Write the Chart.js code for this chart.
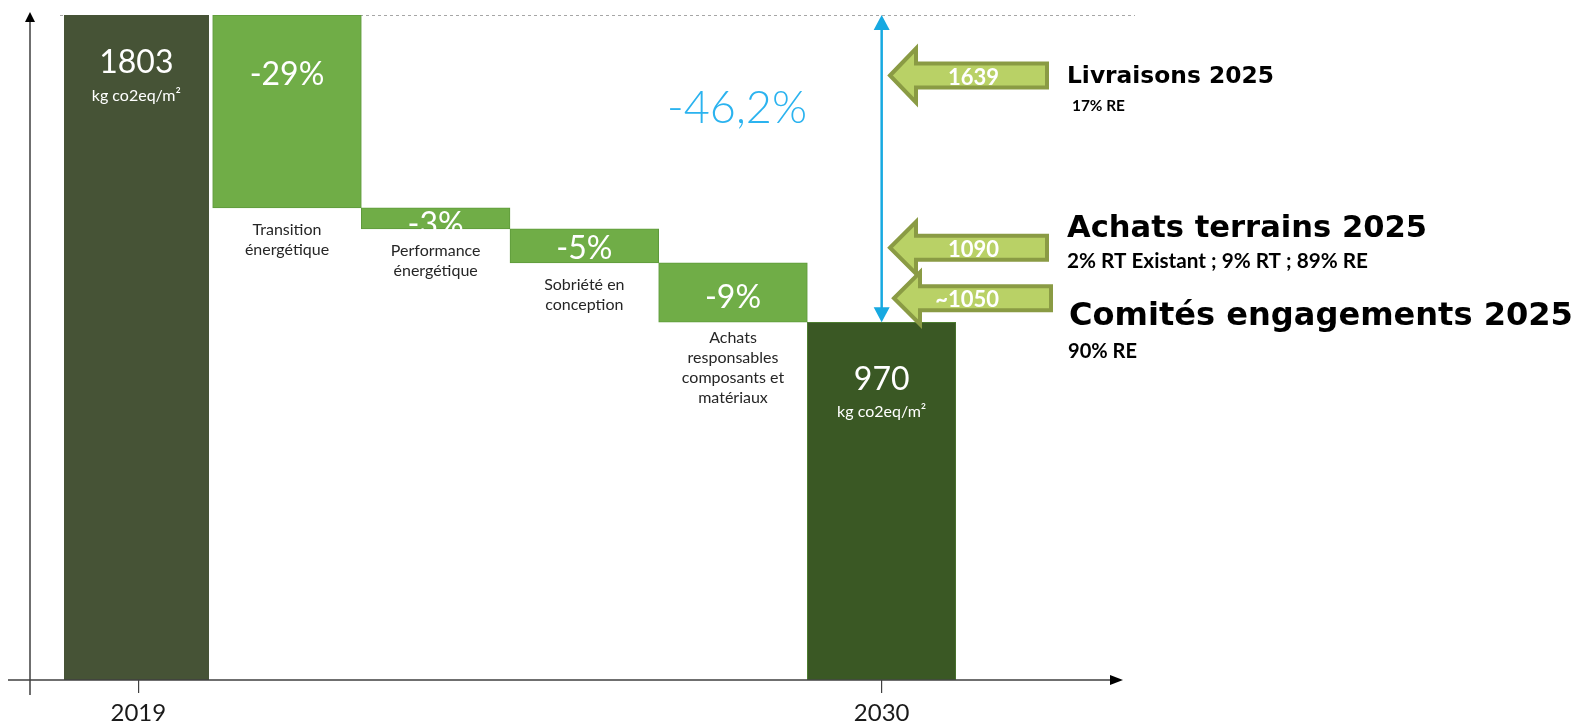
<!DOCTYPE html>
<html>
<head>
<meta charset="utf-8">
<script src="https://cdn.jsdelivr.net/npm/chart.js@4"></script>
<style>
  html, body { margin: 0; padding: 0; background: #ffffff; }
  #chart { display: block; }
</style>
</head>
<body>
<canvas id="chart" width="1579" height="726"></canvas>
<script>
// categories of the waterfall
const categories = ['2019', 'Transition énergétique', 'Performance énergétique', 'Sobriété en conception', 'Achats responsables composants et matériaux', '2030'];
const tickLabels = ['2019', '', '', '', '', '2030'];

// floating bars: low / high value (kg co2eq/m²)
const barLow = [0, 1280, 1223, 1131, 970, 0];
const barHigh = [1803, 1803, 1280, 1223, 1131, 970];
const barLabels = ['1803', '-29%', '-3%', '-5%', '-9%', '970'];
const unitLabel = 'kg co2eq/m²';
const stepLines = [
    [],
    ['Transition', 'énergétique'],
    ['Performance', 'énergétique'],
    ['Sobriété en', 'conception'],
    ['Achats', 'responsables', 'composants et', 'matériaux'],
    []
];
const totalChange = '-46,2%';

// arrows on the right
const arrowLevels = [1639, 1172, 1035];
const arrowLabels = ['1639', '1090', '~1050'];
const noteTitles = ['Livraisons 2025', 'Achats terrains 2025', 'Comités engagements 2025'];
const noteSubs = ['17% RE', '2% RT Existant ; 9% RT ; 89% RE', '90% RE'];

const barColors = ['#465336', '#70ad47', '#70ad47', '#70ad47', '#70ad47', '#3a5824'];
const barBorders = ['#ffffff', '#5e9a3b', '#5e9a3b', '#5e9a3b', '#5e9a3b', '#4d7d30'];
const barBorderWidths = [{ left: 0, top: 0, bottom: 0, right: 4 }, 1, 1, 1, 1, 1];

// write text scaled to a wanted width
function fitText(ctx, text, x, y, weight, family, width, align) {
    ctx.font = weight + ' 100px ' + family;
    const w = ctx.measureText(text).width;
    const size = 100 * width / w;
    ctx.font = weight + ' ' + size.toFixed(2) + 'px ' + family;
    ctx.textAlign = align || 'left';
    ctx.fillText(text, x, y);
}

function greenArrow(ctx, tipX, y, backX, endX, headHalf, bodyHalf) {
    ctx.beginPath();
    ctx.moveTo(tipX, y);
    ctx.lineTo(backX, y - headHalf);
    ctx.lineTo(backX, y - bodyHalf);
    ctx.lineTo(endX, y - bodyHalf);
    ctx.lineTo(endX, y + bodyHalf);
    ctx.lineTo(backX, y + bodyHalf);
    ctx.lineTo(backX, y + headHalf);
    ctx.closePath();
    ctx.fillStyle = '#b9d166';
    ctx.fill();
    ctx.lineWidth = 4;
    ctx.strokeStyle = '#8a9b44';
    ctx.lineJoin = 'miter';
    ctx.stroke();
}

const decorPlugin = {
    id: 'decor',
    beforeDatasetsDraw(chart) {
        const ctx = chart.ctx;
        const y = chart.scales.y;
        ctx.save();
        ctx.strokeStyle = '#a6a6a6';
        ctx.lineWidth = 1;
        ctx.setLineDash([3, 3]);
        ctx.beginPath();
        ctx.moveTo(60, y.getPixelForValue(barHigh[0]) + 0.5);
        ctx.lineTo(1135, y.getPixelForValue(barHigh[0]) + 0.5);
        ctx.stroke();
        ctx.restore();
    },
    afterDraw(chart) {
        const ctx = chart.ctx;
        const x = chart.scales.x;
        const y = chart.scales.y;
        const base = y.getPixelForValue(0);
        ctx.save();

        // axes
        ctx.strokeStyle = '#404040';
        ctx.lineWidth = 1.5;
        ctx.beginPath();
        ctx.moveTo(30, 695);
        ctx.lineTo(30, 20);
        ctx.moveTo(8, base);
        ctx.lineTo(1112, base);
        ctx.stroke();
        ctx.fillStyle = '#000';
        ctx.beginPath();
        ctx.moveTo(30, 12);
        ctx.lineTo(25, 22);
        ctx.lineTo(35, 22);
        ctx.closePath();
        ctx.fill();
        ctx.beginPath();
        ctx.moveTo(1123, base);
        ctx.lineTo(1110, base - 5);
        ctx.lineTo(1110, base + 5);
        ctx.closePath();
        ctx.fill();

        // bar labels
        const valueOffsets = [48, 60, 17, 20, 35, 57];
        ctx.textBaseline = 'middle';
        ctx.textAlign = 'center';
        categories.forEach((c, i) => {
            const cx = x.getPixelForValue(i) - (i === 0 ? 2 : 0);
            const top = y.getPixelForValue(barHigh[i]);
            const bottom = y.getPixelForValue(barLow[i]);
            ctx.fillStyle = '#ffffff';
            ctx.font = '400 32px Lato';
            ctx.fillText(barLabels[i], cx, top + valueOffsets[i]);
            if (i === 0 || i === 5) {
                ctx.font = '400 16px Lato';
                ctx.fillText(unitLabel, cx, top + valueOffsets[i] + 33);
            }
            ctx.fillStyle = '#262626';
            ctx.font = '400 16px Lato';
            const off = i === 4 ? 16 : 22;
            stepLines[i].forEach((line, k) => {
                ctx.fillText(line, cx, bottom + off + k * 20);
            });
        });

        // blue total arrow
        const ax = x.getPixelForValue(5);
        const ay1 = y.getPixelForValue(barHigh[0]);
        const ay2 = y.getPixelForValue(barHigh[5]);
        ctx.strokeStyle = '#17a9e1';
        ctx.fillStyle = '#17a9e1';
        ctx.lineWidth = 2.5;
        ctx.beginPath();
        ctx.moveTo(ax, ay1 + 12);
        ctx.lineTo(ax, ay2 - 12);
        ctx.stroke();
        ctx.beginPath();
        ctx.moveTo(ax, ay1);
        ctx.lineTo(ax - 8, ay1 + 15);
        ctx.lineTo(ax + 8, ay1 + 15);
        ctx.closePath();
        ctx.fill();
        ctx.beginPath();
        ctx.moveTo(ax, ay2);
        ctx.lineTo(ax - 8, ay2 - 15);
        ctx.lineTo(ax + 8, ay2 - 15);
        ctx.closePath();
        ctx.fill();

        ctx.fillStyle = '#2bb3ef';
        ctx.textBaseline = 'alphabetic';
        fitText(ctx, totalChange, 737, 123, '300', 'Lato', 140, 'center');

        // green arrows with values
        arrowLevels.forEach((v, i) => {
            const py = y.getPixelForValue(v);
            const shift = i === 2 ? 4 : 0;
            const half = i === 0 ? 27 : 26;
            greenArrow(ctx, 890 + shift, py, 916 + shift, 1047 + shift, half, 12);
            ctx.fillStyle = '#ffffff';
            ctx.font = '700 22px Lato';
            ctx.textAlign = 'right';
            ctx.textBaseline = 'middle';
            ctx.fillText(arrowLabels[i], 999, py + 2);
        });

        // notes on the right
        ctx.fillStyle = '#000000';
        ctx.textBaseline = 'alphabetic';
        fitText(ctx, noteTitles[0], 1067, 83, '700', 'DejaVu Sans', 207);
        fitText(ctx, noteSubs[0], 1072, 111, '700', 'Lato', 53);
        fitText(ctx, noteTitles[1], 1067, 237, '700', 'DejaVu Sans', 360);
        fitText(ctx, noteSubs[1], 1067, 268, '700', 'Lato', 301);
        fitText(ctx, noteTitles[2], 1069, 325, '700', 'DejaVu Sans', 504);
        fitText(ctx, noteSubs[2], 1068, 358, '700', 'Lato', 69);

        ctx.restore();
    }
};

const ctx = document.getElementById('chart').getContext('2d');

new Chart(ctx, {
    type: 'bar',
    data: {
        labels: categories,
        datasets: [{
            data: barLow.map((v, i) => [v, barHigh[i]]),
            backgroundColor: barColors,
            borderColor: barBorders,
            borderWidth: barBorderWidths,
            borderSkipped: false,
            barPercentage: 1,
            categoryPercentage: 1
        }]
    },
    options: {
        responsive: false,
        animation: false,
        devicePixelRatio: 1,
        layout: {
            padding: { top: 15, left: 64, right: 623, bottom: 0 }
        },
        plugins: {
            legend: { display: false },
            tooltip: { enabled: false }
        },
        scales: {
            x: {
                offset: true,
                border: { display: false },
                grid: {
                    offset: false,
                    drawOnChartArea: false,
                    drawTicks: true,
                    tickLength: 13,
                    lineWidth: 1.2,
                    color: c => (c.index === 0 || c.index === 5) ? '#404040' : 'rgba(0,0,0,0)'
                },
                ticks: {
                    autoSkip: false,
                    maxRotation: 0,
                    padding: 6,
                    color: '#1a1a1a',
                    font: { family: 'Lato', size: 24 },
                    callback: (v, i) => tickLabels[i]
                },
                afterFit: scale => { scale.height = 46; }
            },
            y: {
                display: false,
                min: 0,
                max: 1803
            }
        }
    },
    plugins: [decorPlugin]
});
</script>
</body>
</html>
